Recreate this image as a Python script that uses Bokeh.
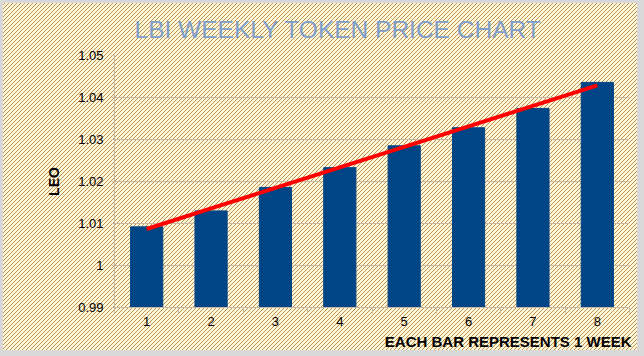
import numpy as np
from bokeh.plotting import figure
from bokeh.models import FixedTicker, Range1d, Title
from bokeh.embed import file_html
from bokeh.resources import INLINE

# ---- data ----
weeks = [1, 2, 3, 4, 5, 6, 7, 8]
prices = [1.0092, 1.0130, 1.0186, 1.0233, 1.0285, 1.0328, 1.0374, 1.0436]
y_ticks = [0.99, 1.0, 1.01, 1.02, 1.03, 1.04, 1.05]
y_tick_labels = ["0.99", "1", "1.01", "1.02", "1.03", "1.04", "1.05"]
title_text = "LBI WEEKLY TOKEN PRICE CHART"
x_title = "EACH BAR REPRESENTS 1 WEEK"
y_title = "LEO"

FONT = "Liberation Sans"
BG = "%23fff8da"
HATCH = "%23bf9050"
GRID = "#c8b8a8"
RIM = "#d9d9d9"
W, H = 644, 356

# 4x4 pixel tile giving thin "/" hatching
tile = ("<svg xmlns='http://www.w3.org/2000/svg' width='4' height='4' shape-rendering='crispEdges'>"
        f"<rect width='4' height='4' fill='{BG}'/>"
        f"<rect x='0' y='3' width='1' height='1' fill='{HATCH}'/>"
        f"<rect x='1' y='2' width='1' height='1' fill='{HATCH}'/>"
        f"<rect x='2' y='1' width='1' height='1' fill='{HATCH}'/>"
        f"<rect x='3' y='0' width='1' height='1' fill='{HATCH}'/>"
        "</svg>")

p = figure(width=W, height=H, output_backend="svg", toolbar_location=None,
           x_range=Range1d(weeks[0] - 0.5, weeks[-1] + 0.5),
           y_range=Range1d(y_ticks[0], y_ticks[-1]),
           min_border_left=114, min_border_right=W - 629,
           min_border_top=55, min_border_bottom=H - 307)

p.background_fill_alpha = 0
p.border_fill_alpha = 0
p.outline_line_color = None
p.styles = {
    "background-image": f"url(\"data:image/svg+xml;utf8,{tile}\")",
    "background-repeat": "repeat",
    "box-shadow": f"inset 3px 3px 0 0 {RIM}, inset -7px -6px 0 0 {RIM}",
}

# title
p.title.text = title_text
p.title.text_font = FONT
p.title.text_font_size = "24.5px"
p.title.text_font_style = "normal"
p.title.text_color = "#7f9fcc"
p.title.align = "left"
p.title.offset = 20
p.title.standoff = 9

# small spacer between title and frame
spacer = Title(text=" ", text_font_size="1px", standoff=5)
p.above.insert(0, spacer)

# bars
p.vbar(x=weeks, top=prices, bottom=y_ticks[0], width=0.5, color="#004586")

# trend line (least squares fit of the bar values)
slope, intercept = np.polyfit(weeks, prices, 1)
trend = [slope * w + intercept for w in weeks]
p.line(weeks, trend, line_color="#ff0000", line_width=4)

# x axis
xa = p.xaxis[0]
minor = [w - 0.5 for w in weeks] + [weeks[-1] + 0.5]
xa.ticker = FixedTicker(ticks=weeks, minor_ticks=minor)
xa.axis_line_color = GRID
xa.major_tick_in = 0
xa.major_tick_out = 0
xa.minor_tick_in = 0
xa.minor_tick_out = 6
xa.minor_tick_line_color = GRID
xa.major_label_text_font = FONT
xa.major_label_text_font_size = "13px"
xa.major_label_text_color = "#000000"
xa.major_label_standoff = 3

# x axis title, right aligned under the axis
xt = Title(text=x_title, align="right", text_font=FONT, text_font_size="15px",
           text_font_style="bold", text_color="#000000", standoff=4, offset=-2)
p.add_layout(xt, "below")

# y axis
ya = p.yaxis[0]
ya.ticker = FixedTicker(ticks=y_ticks)
ya.major_label_overrides = {t: lab for t, lab in zip(y_ticks, y_tick_labels)}
ya.axis_line_color = GRID
ya.major_tick_in = 0
ya.major_tick_out = 3
ya.major_tick_line_color = GRID
ya.minor_tick_line_color = None
ya.major_label_text_font = FONT
ya.major_label_text_font_size = "13px"
ya.major_label_text_color = "#000000"
ya.major_label_standoff = 8
ya.axis_label = y_title
ya.axis_label_text_font = FONT
ya.axis_label_text_font_size = "14px"
ya.axis_label_text_font_style = "bold"
ya.axis_label_text_color = "#000000"
ya.axis_label_standoff = 13

p.xgrid.visible = False
p.ygrid.ticker = FixedTicker(ticks=y_ticks)
p.ygrid.grid_line_color = GRID

open("out.html", "w").write(file_html(p, INLINE))
